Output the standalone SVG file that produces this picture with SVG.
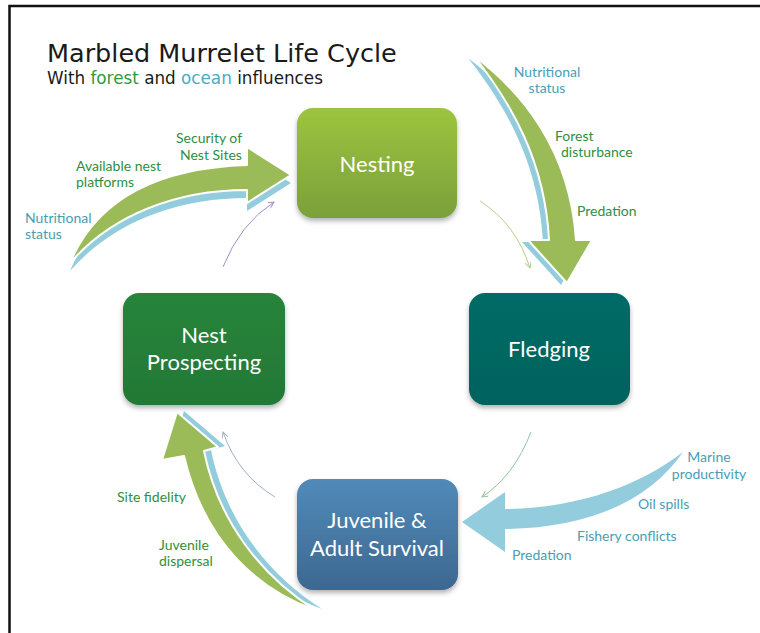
<svg xmlns="http://www.w3.org/2000/svg" width="760" height="633" viewBox="0 0 760 633">
  <style>
    .title { font-family: "DejaVu Sans", Verdana, sans-serif; fill: #1a1a1a; }
    .lbl { font-family: Lato, "Open Sans", sans-serif; font-size: 14px; }
    .fg { fill: #2f8f3c; }
    .oc { fill: #4a9db4; }
    .node text { font-family: Lato, "Open Sans", sans-serif; font-size: 22px; fill: #ffffff; text-anchor: middle; }
    .big-green { fill: #9bbb59; stroke: #ffffff; stroke-width: 2; stroke-linejoin: round; }
    .big-blue { fill: #93cddd; }
    .thin { fill: none; stroke-width: 1; }
  </style>
  <defs>
    <linearGradient id="gNesting" x1="0" y1="0" x2="0" y2="1">
      <stop offset="0" stop-color="#9dc43f"/>
      <stop offset="1" stop-color="#7aa03a"/>
    </linearGradient>
    <linearGradient id="gProsp" x1="0" y1="0" x2="0" y2="1">
      <stop offset="0" stop-color="#28843b"/>
      <stop offset="1" stop-color="#237835"/>
    </linearGradient>
    <linearGradient id="gFledge" x1="0" y1="0" x2="0" y2="1">
      <stop offset="0" stop-color="#006b66"/>
      <stop offset="1" stop-color="#00625d"/>
    </linearGradient>
    <linearGradient id="gSurv" x1="0" y1="0" x2="0" y2="1">
      <stop offset="0" stop-color="#518ab9"/>
      <stop offset="1" stop-color="#3d6890"/>
    </linearGradient>
    <filter id="shadow" x="-10%" y="-10%" width="120%" height="130%">
      <feDropShadow dx="0" dy="3" stdDeviation="2.5" flood-color="#000" flood-opacity="0.3"/>
    </filter>
    <marker id="mPurple" markerWidth="8" markerHeight="8" refX="6" refY="3" orient="auto" markerUnits="userSpaceOnUse">
      <path d="M0,0 L6,3 L0,6" fill="none" stroke="#9d90c6" stroke-width="1"/>
    </marker>
    <marker id="mLime" markerWidth="8" markerHeight="8" refX="6" refY="3" orient="auto" markerUnits="userSpaceOnUse">
      <path d="M0,0 L6,3 L0,6" fill="none" stroke="#b3cf86" stroke-width="1"/>
    </marker>
    <marker id="mGreen" markerWidth="8" markerHeight="8" refX="6" refY="3" orient="auto" markerUnits="userSpaceOnUse">
      <path d="M0,0 L6,3 L0,6" fill="none" stroke="#8cc69a" stroke-width="1"/>
    </marker>
    <marker id="mSlate" markerWidth="8" markerHeight="8" refX="6" refY="3" orient="auto" markerUnits="userSpaceOnUse">
      <path d="M0,0 L6,3 L0,6" fill="none" stroke="#a3b0c9" stroke-width="1"/>
    </marker>
  </defs>

  <rect x="0" y="0" width="760" height="633" fill="#ffffff"/>
  <!-- frame -->
  <rect x="9.5" y="6" width="800" height="700" fill="none" stroke="#111111" stroke-width="2.5"/>

  <!-- heading -->
  <text class="title" x="47" y="62" font-size="25.5">Marbled Murrelet Life Cycle</text>
  <text class="title" x="47" y="84" font-size="16.8">With <tspan fill="#2e9a3f">forest</tspan> and <tspan fill="#4bacc6">ocean</tspan> influences</text>

  <!-- connectors -->
  <g id="connectors">
    <!-- influence arrows: ocean stripe behind, forest arrow on top -->
    <g id="arrow-to-nesting">
      <path class="big-blue" transform="translate(0,8)" d="M70,263 C97,198 158,168 247,165 L247,147 L291,175 L247,203 L247,190 C176,190 112,215 70,263 Z"/>
      <path class="big-green" d="M70,263 C97,198 158,168 247,165 L247,147 L291,175 L247,203 L247,190 C176,190 112,215 70,263 Z"/>
    </g>
    <g id="arrow-to-fledging">
      <path class="big-blue" transform="translate(-6,2)" d="M474,56 C522,92 570,150 576,240 L592,240 L567,283 L528,240 L549,240 C545,162 512,104 474,56 Z"/>
      <path class="big-green" d="M474,56 C522,92 570,150 576,240 L592,240 L567,283 L528,240 L549,240 C545,162 512,104 474,56 Z"/>
    </g>
    <g id="arrow-to-survival">
      <path class="big-blue" d="M683,452 C640,485 580,508 505,509 L505,492 L462,522 L505,552 L505,529 C590,528 650,500 683,452 Z"/>
    </g>
    <g id="arrow-to-prospecting">
      <path class="big-blue" transform="translate(7,-1)" d="M315,610 C260,590 205,545 184,456 L162,460 L177,412 L218,447 L204,451 C218,520 260,575 315,610 Z"/>
      <path class="big-green" d="M315,610 C260,590 205,545 184,456 L162,460 L177,412 L218,447 L204,451 C218,520 260,575 315,610 Z"/>
    </g>

    <!-- life-cycle links -->
    <path class="thin" stroke="#9d90c6" marker-end="url(#mPurple)" d="M223,267 Q240,224 274,202"/>
    <path class="thin" stroke="#b3cf86" marker-end="url(#mLime)" d="M480,201 Q516,224 530,268"/>
    <path class="thin" stroke="#8cc69a" marker-end="url(#mGreen)" d="M531,432 Q514,476 482,497"/>
    <path class="thin" stroke="#a3b0c9" marker-end="url(#mSlate)" d="M275,497 Q238,475 223,432"/>
  </g>

  <!-- influence labels -->
  <g id="labels">
    <text class="lbl fg" x="176" y="143">Security of</text>
    <text class="lbl fg" x="180" y="160">Nest Sites</text>
    <text class="lbl fg" x="76" y="171">Available nest</text>
    <text class="lbl fg" x="76" y="187">platforms</text>
    <text class="lbl oc" x="25" y="223">Nutritional</text>
    <text class="lbl oc" x="25" y="239">status</text>

    <text class="lbl oc" x="547" y="77" text-anchor="middle">Nutritional</text>
    <text class="lbl oc" x="547" y="93" text-anchor="middle">status</text>
    <text class="lbl fg" x="555" y="141">Forest</text>
    <text class="lbl fg" x="561" y="157">disturbance</text>
    <text class="lbl fg" x="577" y="216">Predation</text>

    <text class="lbl oc" x="709" y="462" text-anchor="middle" font-size="13.5">Marine</text>
    <text class="lbl oc" x="709" y="479" text-anchor="middle" font-size="13.5">productivity</text>
    <text class="lbl oc" x="638" y="509">Oil spills</text>
    <text class="lbl oc" x="577" y="541">Fishery conflicts</text>
    <text class="lbl oc" x="512" y="560">Predation</text>

    <text class="lbl fg" x="117" y="502">Site fidelity</text>
    <text class="lbl fg" x="159" y="550">Juvenile</text>
    <text class="lbl fg" x="159" y="566">dispersal</text>
  </g>

  <!-- stages -->
  <g id="nesting" class="node">
    <rect x="297" y="108" width="160" height="110" rx="16" fill="url(#gNesting)" filter="url(#shadow)"/>
    <text x="377" y="172">Nesting</text>
  </g>
  <g id="fledging" class="node">
    <rect x="469" y="293" width="161" height="112" rx="16" fill="url(#gFledge)" filter="url(#shadow)"/>
    <text x="549" y="357">Fledging</text>
  </g>
  <g id="survival" class="node">
    <rect x="297" y="479" width="161" height="111" rx="16" fill="url(#gSurv)" filter="url(#shadow)"/>
    <text x="377" y="528">Juvenile &amp;</text>
    <text x="377" y="556">Adult Survival</text>
  </g>
  <g id="prospecting" class="node">
    <rect x="123" y="293" width="162" height="112" rx="16" fill="url(#gProsp)" filter="url(#shadow)"/>
    <text x="204" y="343">Nest</text>
    <text x="204" y="370">Prospecting</text>
  </g>
</svg>
